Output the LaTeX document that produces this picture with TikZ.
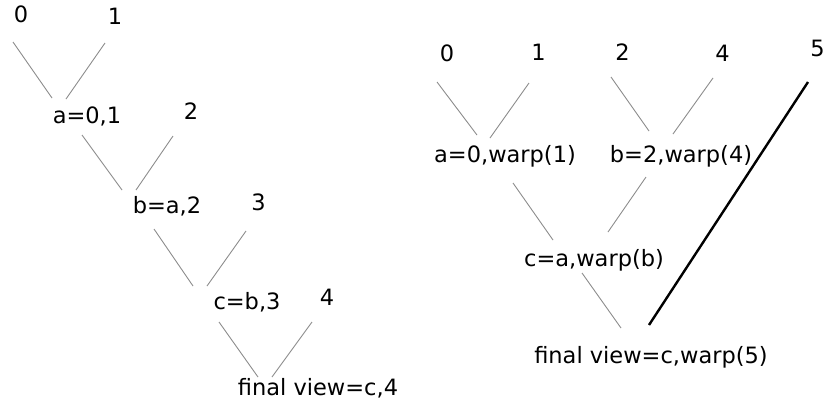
\documentclass[tikz,border=0pt]{standalone}
\usepackage{fontspec}
\setmainfont{DejaVu Sans}
\usetikzlibrary{calc}
\tikzset{
    link/.style={draw=black!45, line width=0.9pt},
    warplink/.style={draw=black, line width=2.4pt}
}
\begin{document}
\begin{tikzpicture}[x=1pt, y=-1pt]
        \useasboundingbox (0,0) rectangle (825,408);
        \begin{scope}[every node/.style={inner sep=0, text height=0.75em, text depth=0.25em, font=\fontsize{22.5}{27}\selectfont}]
            % plain chain
            \node (L0) at (21, 19.5) {0};
            \node (L1) at (115, 21.5) {1};
            \node (La) at (87, 120.5) {a=0,1};
            \node (L2) at (191, 116.5) {2};
            \node (Lb) at (167, 210.5) {b=a,2};
            \node (L3) at (258.5, 207.5) {3};
            \node (Lc) at (247, 306.5) {c=b,3};
            \node (L4) at (327, 302.5) {4};
            \node (Lf) at (318, 392.5) {final view=c,4};
            % warped tree
            \node (R0) at (447, 58.5) {0};
            \node (R1) at (538.5, 57.5) {1};
            \node (R2) at (622.5, 57.5) {2};
            \node (R4) at (722.5, 58.5) {4};
            \node (R5) at (817.5, 53.5) {5};
            \node (Ra) at (505, 159.5) {a=0,warp(1)};
            \node (Rb) at (681, 159.5) {b=2,warp(4)};
            \node (Rc) at (594, 263.5) {c=a,warp(b)};
            \node (Rf) at (651, 360.5) {final view=c,warp(5)};
        \end{scope}
        \draw [link] ($(L0)+(-8,22.5)$) -- ($(La)+(-35,-22.5)$);
        \draw [link] ($(L1)+(-10,21.5)$) -- ($(La)+(-21,-21.5)$);
        \draw [link] ($(La)+(-5,14.5)$) -- ($(Lb)+(-45,-20.5)$);
        \draw [link] ($(L2)+(-18,19.5)$) -- ($(Lb)+(-31,-20.5)$);
        \draw [link] ($(Lb)+(-13,18.5)$) -- ($(Lc)+(-54,-20.5)$);
        \draw [link] ($(L3)+(-12.5,23.5)$) -- ($(Lc)+(-40,-20.5)$);
        \draw [link] ($(Lc)+(-28,15.5)$) -- ($(Lf)+(-60,-15.5)$);
        \draw [link] ($(L4)+(-15,19.5)$) -- ($(Lf)+(-46,-15.5)$);
        \draw [link] ($(R0)+(-10,23.5)$) -- ($(Ra)+(-28,-24.5)$);
        \draw [link] ($(R1)+(-9.5,25.5)$) -- ($(Ra)+(-15,-21.5)$);
        \draw [link] ($(R2)+(-11.5,19.5)$) -- ($(Rb)+(-32,-28.5)$);
        \draw [link] ($(R4)+(-9.5,19.5)$) -- ($(Rb)+(-8,-25.5)$);
        \draw [link] ($(Ra)+(8,23.5)$) -- ($(Rc)+(-41,-23.5)$);
        \draw [link] ($(Rb)+(-35,17.5)$) -- ($(Rc)+(14,-31.5)$);
        \draw [link] ($(Rc)+(-12,9.5)$) -- ($(Rf)+(-30,-32.5)$);
        \draw [warplink] ($(R5)+(-9.5,28.5)$) -- ($(Rf)+(-2,-35.5)$);
    \end{tikzpicture}
\end{document}
